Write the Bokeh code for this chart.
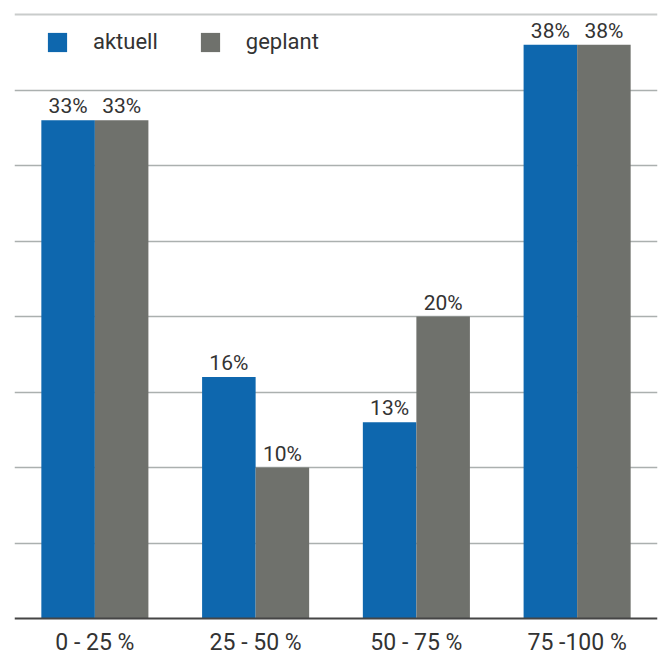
from bokeh.plotting import figure
from bokeh.models import ColumnDataSource, FactorRange, Range1d, FixedTicker, Legend, LegendItem, Span
from bokeh.transform import dodge
from bokeh.core.properties import value
from bokeh.embed import file_html
from bokeh.resources import INLINE

categories = ["0 - 25 %", "25 - 50 %", "50 - 75 %", "75 -100 %"]
aktuell = [33, 16, 13, 38]
geplant = [33, 10, 20, 38]
series_names = ["aktuell", "geplant"]
y_ticks = [5, 10, 15, 20, 25, 30, 35]
y_max = 40

BLUE = "#0e67ae"
GRAY = "#6f716c"
FONT = "Roboto"
TXT = "#333333"

src = ColumnDataSource(dict(
    cat=categories,
    aktuell=aktuell,
    geplant=geplant,
    base=[0] * len(categories),
    lab_a=[f"{v}%" for v in aktuell],
    lab_g=[f"{v}%" for v in geplant],
))

PX = 604 / 40.0  # pixels per percent
p = figure(width=664, height=655, output_backend="svg", toolbar_location=None,
           x_range=FactorRange(*categories, range_padding=0),
           y_range=Range1d(-37 / PX, 618 / PX),
           x_axis_location=None, y_axis_location=None,
           min_border_left=14, min_border_right=7, min_border_top=0, min_border_bottom=0)
p.outline_line_color = None
p.background_fill_color = "white"

p.xgrid.visible = False
p.ygrid.ticker = FixedTicker(ticks=y_ticks)
p.ygrid.grid_line_color = "#abb0af"
p.ygrid.grid_line_width = 1.3
p.add_layout(Span(location=y_max, dimension="width", line_color="#c9cccb", line_width=2,
                  level="underlay"))

bw = 0.333
r1 = p.vbar(x=dodge("cat", -0.1665, range=p.x_range), top="aktuell", width=bw, source=src,
            fill_color=BLUE, line_color=None)
r2 = p.vbar(x=dodge("cat", 0.1665, range=p.x_range), top="geplant", width=bw, source=src,
            fill_color=GRAY, line_color=None)

p.add_layout(Span(location=0, dimension="width", line_color="#454545", line_width=2))

p.text(x=dodge("cat", -0.1665, range=p.x_range), y="aktuell", text="lab_a", source=src,
       text_align="center", text_baseline="bottom", y_offset=-2,
       text_font=value(FONT), text_font_size="21px", text_color=TXT)
p.text(x=dodge("cat", 0.1665, range=p.x_range), y="geplant", text="lab_g", source=src,
       text_align="center", text_baseline="bottom", y_offset=-2,
       text_font=value(FONT), text_font_size="21px", text_color=TXT)

# category labels below the baseline
p.text(x="cat", y="base", text="cat", source=src,
       text_align="center", text_baseline="bottom", y_offset=37,
       text_font=value(FONT), text_font_size="23px", text_color=TXT)

legend = Legend(items=[LegendItem(label=series_names[0], renderers=[r1]),
                       LegendItem(label=series_names[1], renderers=[r2])],
                orientation="horizontal", location=(31, 601),
                glyph_width=24, glyph_height=24, label_height=24,
                label_standoff=24, spacing=40, padding=0, margin=0,
                label_text_font=FONT, label_text_font_size="22px",
                label_text_color=TXT, border_line_color=None,
                background_fill_alpha=0)
p.add_layout(legend, "center")

open("out.html", "w").write(file_html(p, INLINE))
